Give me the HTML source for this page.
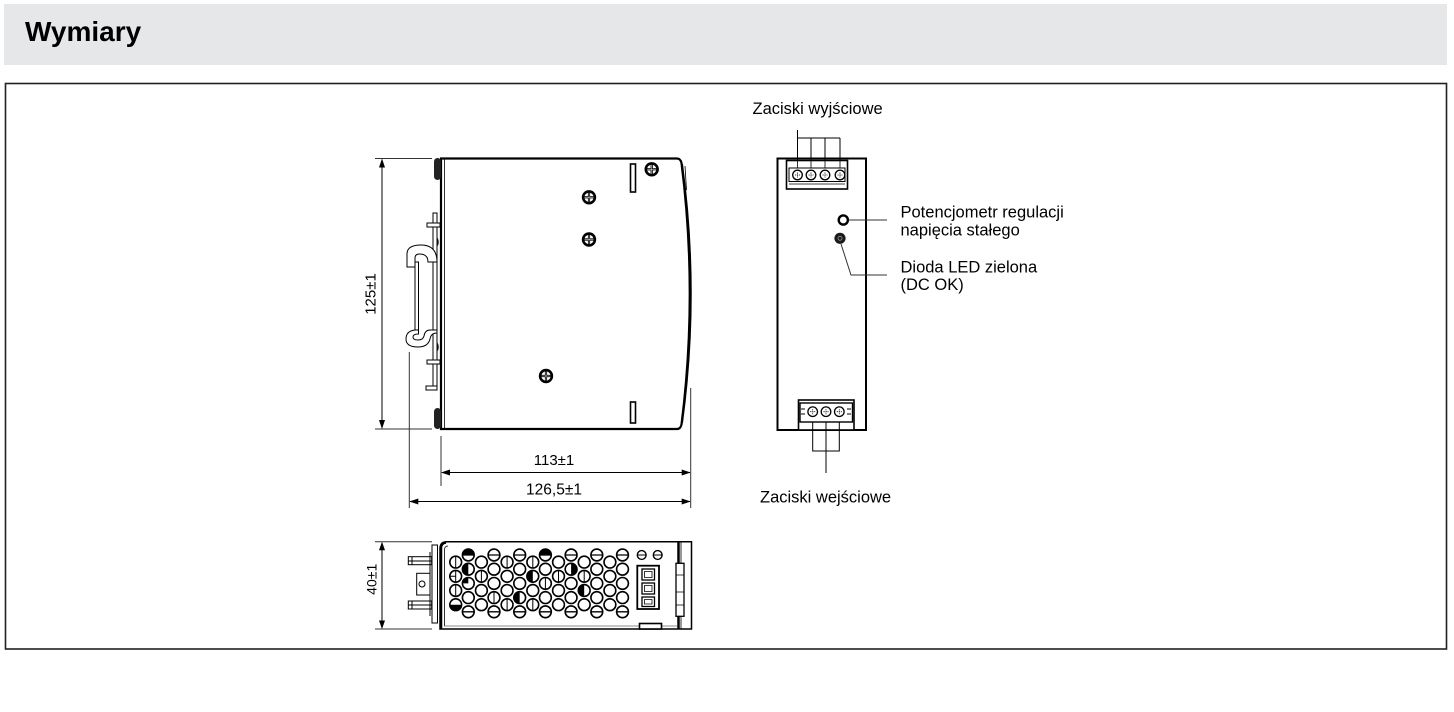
<!DOCTYPE html>
<html><head><meta charset="utf-8"><style>
html,body{margin:0;padding:0;background:#fff;}
svg{display:block;}
text{font-family:"Liberation Sans","Noto Sans CJK SC",sans-serif;fill:#000;}
</style></head><body>
<svg width="1454" height="712" viewBox="0 0 1454 712" xmlns="http://www.w3.org/2000/svg">
<defs>
<g id="scr"><circle r="7.2" fill="#000"/><circle r="4.6" fill="#fff"/><path d="M-5,0H5M0,-5V5" stroke="#000" stroke-width="2.2"/><path d="M-4.5,0H4.5M0,-4.5V4.5" stroke="#fff" stroke-width="0.5"/></g>
<g id="ts"><circle r="4.8" fill="#fff" stroke="#000" stroke-width="1.3"/><path d="M-2.5,0H2.5M0,-2.5V2.5" stroke="#000" stroke-width="0.8" stroke-dasharray="1.2 0.8"/></g>
<g id="re" fill="#fff" stroke="#000" stroke-width="1.6">
<circle cx="468.3" cy="0" r="5.9"/><circle cx="494" cy="0" r="5.9"/><circle cx="519.7" cy="0" r="5.9"/><circle cx="545.4" cy="0" r="5.9"/><circle cx="571.1" cy="0" r="5.9"/><circle cx="596.8" cy="0" r="5.9"/><circle cx="622.5" cy="0" r="5.9"/>
</g>
<g id="ro" fill="#fff" stroke="#000" stroke-width="1.6">
<circle cx="455.7" cy="0" r="5.9"/><circle cx="481.4" cy="0" r="5.9"/><circle cx="507.1" cy="0" r="5.9"/><circle cx="532.8" cy="0" r="5.9"/><circle cx="558.5" cy="0" r="5.9"/><circle cx="584.2" cy="0" r="5.9"/><circle cx="609.9" cy="0" r="5.9"/>
</g>
<g id="reh" stroke="#000" stroke-width="1.3">
<path d="M462.4,0h11.8M488.1,0h11.8M513.8,0h11.8M539.5,0h11.8M565.2,0h11.8M590.9,0h11.8M616.6,0h11.8"/>
</g>
</defs>

<!-- header -->
<rect x="4" y="4" width="1443" height="61" fill="#e6e7e8"/>
<text x="25" y="41" font-size="28" font-weight="bold">Wymiary</text>

<!-- frame -->
<rect x="5.5" y="83.5" width="1441" height="565.5" fill="none" stroke="#222" stroke-width="1.6"/>

<!-- ============ SIDE VIEW ============ -->
<g stroke="#333" stroke-width="1">
<line x1="375" y1="158.5" x2="432" y2="158.5"/>
<line x1="375" y1="429" x2="432" y2="429"/>
</g>
<line x1="382" y1="160" x2="382" y2="428" stroke="#000" stroke-width="1"/>
<polygon points="382,158.5 379,167.5 385,167.5" fill="#000"/>
<polygon points="382,429 379,420 385,420" fill="#000"/>
<text transform="translate(375.5,294) rotate(-90)" font-size="15" text-anchor="middle">125±1</text>

<!-- body -->
<path d="M441,158.5 L677,158.5 Q680.5,158.5 681.5,163 Q698,293.5 681.5,424.5 Q680.5,429 677,429 L441,429 Z" fill="#fff" stroke="#000" stroke-width="2.2"/>
<path d="M682,164 Q699.5,293.5 682,423" fill="none" stroke="#000" stroke-width="2"/>
<line x1="444.5" y1="158.5" x2="444.5" y2="429" stroke="#000" stroke-width="0.8"/>
<line x1="685" y1="166" x2="686.5" y2="190" stroke="#000" stroke-width="0.8"/>
<rect x="434" y="158" width="7" height="22" rx="3.5" fill="#222"/>
<rect x="434" y="408" width="7" height="21" rx="3.5" fill="#222"/>
<ellipse cx="436" cy="242" rx="2.8" ry="5" fill="#222"/>
<ellipse cx="436" cy="347" rx="2.8" ry="5" fill="#222"/>
<g fill="#fff" stroke="#000" stroke-width="1">
<rect x="433" y="213" width="4" height="177"/>
<rect x="427" y="223" width="13" height="4"/>
<rect x="427" y="360" width="13" height="4"/>
<rect x="426" y="386" width="11" height="4"/>
<path d="M437,262 Q437,245 421,245 Q407,245 407,254 L407,267 L415,267 L415,258 Q415,254 419.5,254 Q428,254 428,262 Z"/>
<rect x="415" y="262" width="3.5" height="70"/>
<path d="M418.5,330 L415,330 Q406,331 406,339 Q406,347 418,347 Q428,347 430,339 Q431,333 437,333 L437,330 L430,330 Q425,330 424,336 Q423,340 418,340 Q413,340 413,337 Q413,334 418.5,334 Z"/>
</g>
<rect x="630.5" y="164" width="5" height="28" fill="#fff" stroke="#000" stroke-width="1.6"/>
<rect x="630.5" y="402" width="5" height="21" fill="#fff" stroke="#000" stroke-width="1.6"/>
<use href="#scr" x="651.7" y="169.3"/>
<use href="#scr" x="589" y="197.3"/>
<use href="#scr" x="589" y="239.5"/>
<use href="#scr" x="546" y="376"/>

<!-- horizontal dimensions -->
<g stroke="#333" stroke-width="1">
<line x1="441" y1="436" x2="441" y2="486"/>
<line x1="409.3" y1="352" x2="409.3" y2="508"/>
<line x1="690.7" y1="388" x2="690.7" y2="508"/>
</g>
<line x1="442" y1="472.5" x2="690" y2="472.5" stroke="#000" stroke-width="1"/>
<polygon points="441,472.5 450,469.5 450,475.5" fill="#000"/>
<polygon points="690.7,472.5 681.7,469.5 681.7,475.5" fill="#000"/>
<text x="554" y="465" font-size="15" text-anchor="middle">113±1</text>
<line x1="410" y1="501.5" x2="690" y2="501.5" stroke="#000" stroke-width="1"/>
<polygon points="409.3,501.5 418.3,498.5 418.3,504.5" fill="#000"/>
<polygon points="690.7,501.5 681.7,498.5 681.7,504.5" fill="#000"/>
<text x="554" y="494.5" font-size="15.5" text-anchor="middle">126,5±1</text>

<!-- ============ FRONT VIEW ============ -->
<text x="752.5" y="114" font-size="16.5">Zaciski wyjściowe</text>
<g stroke="#000" stroke-width="1" fill="none">
<path d="M797.5,130 V161 M797.5,138 H840 M811,138 V161 M825,138 V161 M840,138 V161"/>
</g>
<rect x="777.5" y="158.5" width="88.5" height="271.5" fill="none" stroke="#000" stroke-width="2"/>
<rect x="786.5" y="160.5" width="61" height="28.5" fill="#fff" stroke="#000" stroke-width="1.6"/>
<rect x="789" y="168" width="56" height="13.5" fill="#fff" stroke="#000" stroke-width="1"/>
<line x1="789" y1="184" x2="845" y2="184" stroke="#000" stroke-width="0.8"/>
<path d="M797.5,160.5V168M811,160.5V168M825,160.5V168M840,160.5V168" stroke="#000" stroke-width="0.8"/>
<use href="#ts" x="797.5" y="175"/>
<use href="#ts" x="811" y="175"/>
<use href="#ts" x="825" y="175"/>
<use href="#ts" x="840" y="175"/>
<circle cx="843.3" cy="220" r="4.6" fill="#fff" stroke="#000" stroke-width="2.4"/>
<line x1="848.5" y1="220" x2="887" y2="220" stroke="#333" stroke-width="1"/>
<circle cx="840" cy="238.3" r="5.6" fill="#1a1a1a"/>
<circle cx="840" cy="238.3" r="2" fill="none" stroke="#999" stroke-width="0.8"/>
<polyline points="841,244 851,275 887,275" fill="none" stroke="#333" stroke-width="1"/>
<text x="900.5" y="217.5" font-size="16.5">Potencjometr regulacji</text>
<text x="900.5" y="235.5" font-size="16.5">napięcia stałego</text>
<text x="900.5" y="272.3" font-size="16.5">Dioda LED zielona</text>
<text x="900.5" y="290" font-size="16.5">(DC OK)</text>
<rect x="798.5" y="400" width="55.5" height="30" fill="#fff" stroke="#000" stroke-width="1.6"/>
<rect x="800" y="403" width="52.5" height="19" fill="#fff" stroke="#000" stroke-width="1.4"/>
<use href="#ts" x="812.7" y="411.7"/>
<use href="#ts" x="826" y="411.7"/>
<use href="#ts" x="839.3" y="411.7"/>
<path d="M801,409h4M801,414h4M847,409h4M847,414h4" stroke="#000" stroke-width="1"/>
<path d="M812.7,422V430M826,422V430M839.3,422V430" stroke="#000" stroke-width="1"/>
<g stroke="#000" stroke-width="1" fill="none">
<path d="M812.7,430 V451 H839.3 V430 M826,430 V473"/>
</g>
<text x="760" y="502.7" font-size="16.5">Zaciski wejściowe</text>

<!-- ============ BOTTOM VIEW ============ -->
<g stroke="#333" stroke-width="1">
<line x1="375" y1="541.7" x2="432" y2="541.7"/>
<line x1="375" y1="629" x2="432" y2="629"/>
</g>
<line x1="382" y1="543" x2="382" y2="628" stroke="#000" stroke-width="1"/>
<polygon points="382,541.7 379,550.2 385,550.2" fill="#000"/>
<polygon points="382,629 379,620.5 385,620.5" fill="#000"/>
<text transform="translate(376.5,579.3) rotate(-90)" font-size="14" text-anchor="middle">40±1</text>

<g stroke="#000" stroke-width="1" fill="#fff">
<rect x="408.3" y="556.7" width="23.4" height="8"/>
<line x1="408.3" y1="561" x2="431.7" y2="561"/>
<rect x="408.3" y="601" width="23.4" height="8"/>
<line x1="408.3" y1="605" x2="431.7" y2="605"/>
<path d="M412,556.7v8M412,601v8" />
<rect x="416.7" y="573.3" width="13.3" height="21.7"/>
<circle cx="422" cy="584" r="3"/>
<line x1="430" y1="552" x2="430" y2="616"/>
<rect x="432" y="545" width="5.5" height="78"/>
</g>

<path d="M447,541.7 H691.5 V629 H440 V548.5 Q440,541.7 447,541.7 Z" fill="#fff" stroke="#000" stroke-width="1.5"/>
<path d="M441,629 V548 Q441,543 446,542.5" fill="none" stroke="#000" stroke-width="2.5"/>
<path d="M444.5,626 V550 Q444.5,546 448,546" fill="none" stroke="#000" stroke-width="0.8"/>
<line x1="444" y1="626" x2="677" y2="626" stroke="#666" stroke-width="0.8"/>
<use href="#re" y="555"/>
<use href="#ro" y="562.1"/>
<use href="#re" y="569.2"/>
<use href="#ro" y="576.3"/>
<use href="#re" y="583.4"/>
<use href="#ro" y="590.5"/>
<use href="#re" y="597.6"/>
<use href="#ro" y="604.7"/>
<use href="#re" y="611.8"/>
<use href="#reh" y="555"/>
<use href="#reh" y="611.8"/>
<g fill="#000">
<path d="M462.4,555 A5.9,5.9 0 0 1 474.2,555 Z"/>
<path d="M539.5,555 A5.9,5.9 0 0 1 551.3,555 Z"/>
<path d="M468.3,563.3 A5.9,5.9 0 0 0 468.3,575.1 Z"/>
<path d="M462.4,583.4 A5.9,5.9 0 0 1 468.3,577.5 V583.4 Z"/>
<path d="M449.8,604.7 A5.9,5.9 0 0 0 461.6,604.7 Z"/>
<path d="M532.8,570.4 A5.9,5.9 0 0 0 532.8,582.2 Z"/>
<path d="M519.7,591.7 A5.9,5.9 0 0 0 519.7,603.5 Z"/>
<path d="M571.1,563.3 A5.9,5.9 0 0 1 571.1,575.1 Z"/>
<path d="M584.2,584.6 A5.9,5.9 0 0 0 584.2,596.4 Z"/>
</g>
<g stroke="#000" stroke-width="1">
<path d="M455.7,556.2v11.8M455.7,584.6v11.8M455.7,570.4v11.8M449.8,576.3h5.9M481.4,570.4v11.8M507.1,556.2v11.8M507.1,598.8v11.8M532.8,556.2v11.8M532.8,598.8v11.8M558.5,570.4v11.8M584.2,570.4v11.8M494,591.7v11.8M545.4,577.5v11.8"/>
</g>
<g fill="#fff" stroke="#000" stroke-width="1.4">
<circle cx="641.7" cy="555" r="4.4"/>
<circle cx="657.7" cy="555" r="4.4"/>
</g>
<path d="M637.3,555h8.8M653.3,555h8.8" stroke="#000" stroke-width="1"/>
<rect x="637.3" y="565.7" width="21.7" height="43.3" fill="#fff" stroke="#000" stroke-width="1.8"/>
<g fill="#fff" stroke="#000" stroke-width="1.3">
<rect x="642" y="569" width="12.5" height="11"/>
<rect x="642" y="583" width="12.5" height="11"/>
<rect x="642" y="597" width="12.5" height="9.5"/>
</g>
<path d="M644.5,571.5h7.5v6h-7.5zM644.5,585.5h7.5v6h-7.5zM644.5,599.5h7.5v4.5h-7.5z" fill="none" stroke="#000" stroke-width="0.8"/>
<rect x="639.5" y="623.5" width="22" height="5.5" fill="#fff" stroke="#000" stroke-width="1.6"/>
<line x1="678.5" y1="541.7" x2="678.5" y2="629" stroke="#000" stroke-width="2.5"/>
<line x1="681" y1="541.7" x2="681" y2="629" stroke="#000" stroke-width="0.8"/>
<rect x="676" y="563.3" width="8" height="53" fill="#fff" stroke="#000" stroke-width="1.3"/>
<path d="M676,575h8M676,592h8M676,605h8" stroke="#000" stroke-width="0.8"/>
</svg>
</body></html>
